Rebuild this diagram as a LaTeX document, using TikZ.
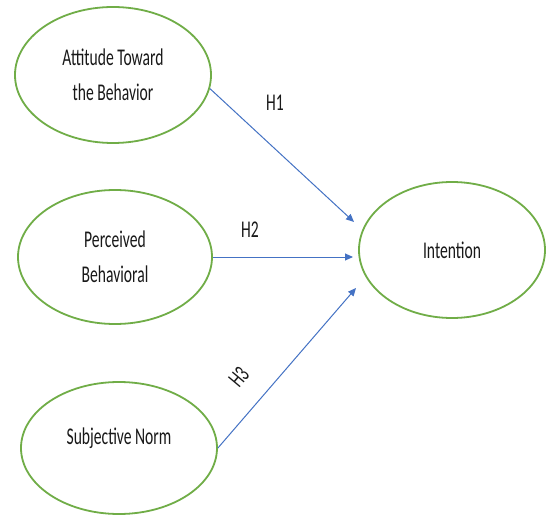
\documentclass[tikz,border=0pt]{standalone}
\usepackage{fontspec}
\setmainfont{Carlito}[FakeStretch=0.65]
\usepackage{tikz}
\usetikzlibrary{arrows.meta,shapes.geometric}
\usepackage{xcolor}
\definecolor{latgreen}{RGB}{112,173,71}
\definecolor{pathblue}{RGB}{68,114,196}

\begin{document}
\begin{tikzpicture}[
  x=1pt, y=1pt,
  every node/.style={font=\fontsize{24}{35}\selectfont, text=black!90},
  latent/.style={draw=latgreen, line width=1.8pt, ellipse, fill=white,
                 inner sep=0pt, align=center},
  hyp/.style={-{Triangle[length=8pt, width=7pt]}, draw=pathblue, line width=1pt}
]
\useasboundingbox[fill=white] (0,0) rectangle (546,515);

\node[latent, minimum width=196pt, minimum height=136pt] (att) at (113,440) {Attitude Toward\\the Behavior};
\node[latent, minimum width=194pt, minimum height=134pt] (per) at (115,258) {Perceived\\Behavioral};
\node[latent, minimum width=196pt, minimum height=132pt] (sub) at (119,67)  {Subjective Norm\\[-12pt]\mbox{}};
\node[latent, minimum width=186pt, minimum height=136pt] (int) at (452,265) {Intention};

\coordinate (t1) at (354,293);
\coordinate (t2) at (353,258);
\coordinate (t3) at (356,227);

\draw[hyp] (att.-8) -- (t1);
\draw[hyp] (per.east) -- (t2);
\draw[hyp] (sub.east) -- (t3);

\node (h1) at (275,412) {H1};
\node (h2) at (250,285) {H2};
\node[rotate=50, inner sep=1pt] (h3) at (239,138) {H3};

\end{tikzpicture}
\end{document}
